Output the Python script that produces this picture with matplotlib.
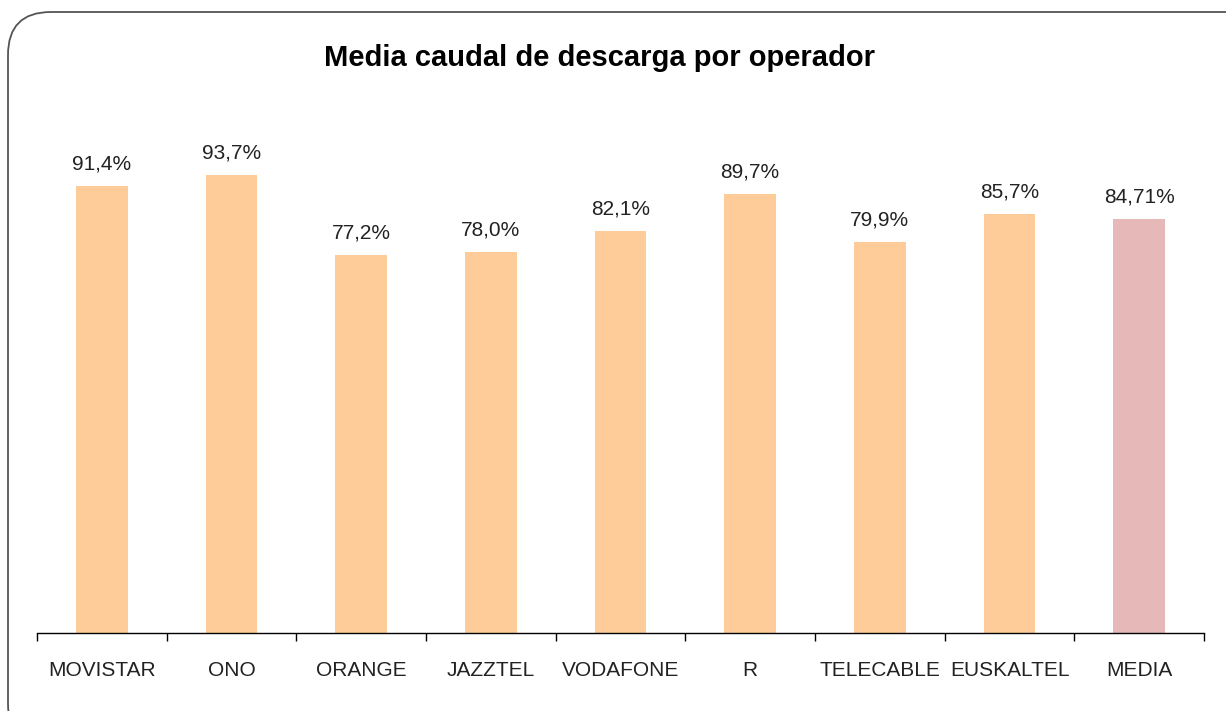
import matplotlib.pyplot as plt
from matplotlib.patches import FancyBboxPatch

plt.rcParams['font.family'] = ['Liberation Sans', 'DejaVu Sans']

# Datos
operadores = ['MOVISTAR', 'ONO', 'ORANGE', 'JAZZTEL', 'VODAFONE', 'R',
              'TELECABLE', 'EUSKALTEL', 'MEDIA']
valores = [91.4, 93.7, 77.2, 78.0, 82.1, 89.7, 79.9, 85.7, 84.71]
etiquetas = ['91,4%', '93,7%', '77,2%', '78,0%', '82,1%', '89,7%',
             '79,9%', '85,7%', '84,71%']
colores = ['#FECC99'] * 8 + ['#E6B9B8']

fig = plt.figure(figsize=(12.26, 7.11), dpi=100)

# marco redondeado
marco = FancyBboxPatch((8 / 1226, -0.05), 1.2, 1 - 12 / 711 + 0.05,
                       boxstyle='round,pad=0,rounding_size=0.035',
                       transform=fig.transFigure, facecolor='white',
                       edgecolor='#555555', linewidth=1.3,
                       mutation_aspect=1226 / 711, zorder=-5)
fig.patches.append(marco)

ax = fig.add_axes([37 / 1226, 1 - 633 / 711, (1204 - 37) / 1226, (633 - 142) / 711])
ax.set_facecolor('none')
ax.set_zorder(2)

x = range(len(operadores))
ax.bar(x, valores, width=0.4, color=colores, edgecolor='none')

for xi, v, t in zip(x, valores, etiquetas):
    ax.annotate(t, (xi, v), xytext=(0, 9), textcoords='offset points',
                ha='center', va='bottom', fontsize=15, color='#222222')

ax.set_xlim(-0.5, len(operadores) - 0.5)
ax.set_ylim(0, 100.4)

ax.set_xticks(list(x))
ax.set_xticklabels(operadores, fontsize=15, color='#222222')
ax.tick_params(axis='x', which='major', length=0, pad=20)
ax.set_xticks([i - 0.5 for i in range(len(operadores) + 1)], minor=True)
ax.tick_params(axis='x', which='minor', length=6, width=1, color='black')

ax.set_yticks([])
for s in ['top', 'right', 'left']:
    ax.spines[s].set_visible(False)
ax.spines['bottom'].set_linewidth(1)

fig.text(599 / 1226, 1 - 58 / 711, 'Media caudal de descarga por operador',
         ha='center', va='center', fontsize=21, fontweight='bold', color='black',
         zorder=3)

fig.savefig('out.png', dpi=100)
